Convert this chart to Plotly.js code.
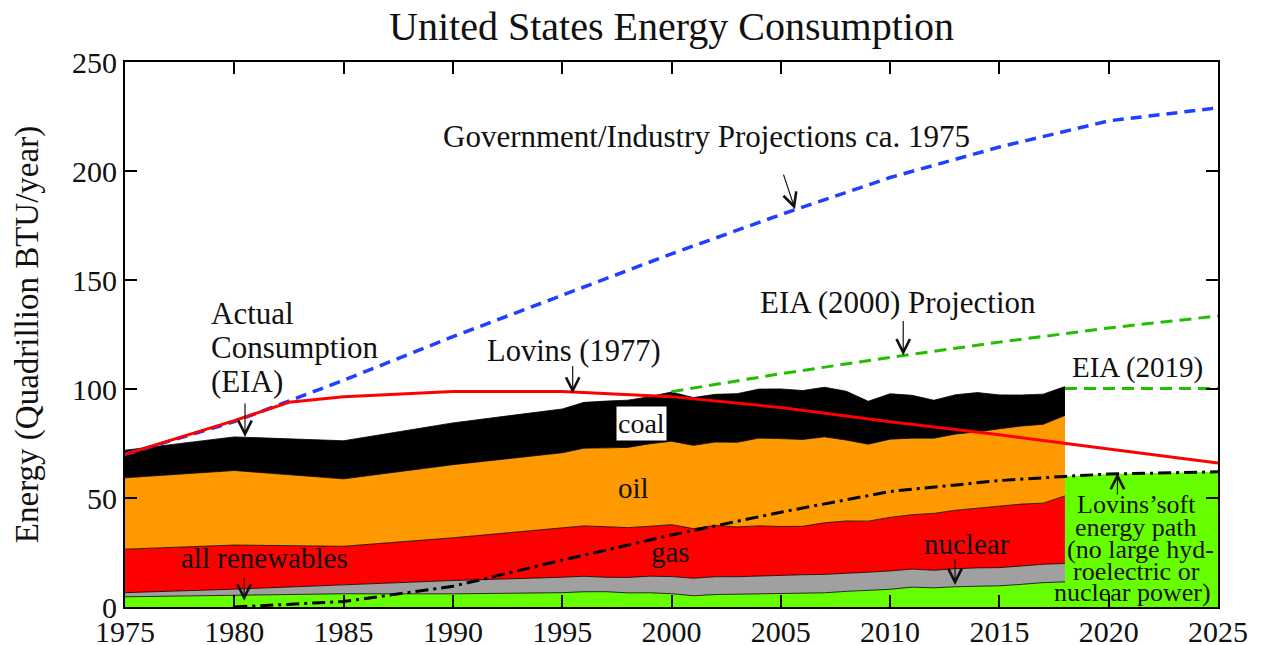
<!DOCTYPE html>
<html>
<head>
<meta charset="utf-8">
<script src="https://cdn.plot.ly/plotly-3.0.1.min.js"></script>
<style>html,body{margin:0;padding:0;background:#fff;}#chart{width:1261px;height:645px;}</style>
</head>
<body>
<div id="chart"></div>
<script>
// ---- Actual consumption by source (quadrillion BTU) ----
const years = [1975,1980,1985,1990,1995,1996,1997,1998,1999,2000,2001,2002,2003,2004,2005,2006,2007,2008,2009,2010,2011,2012,2013,2014,2015,2016,2017,2018];
const renewables = [4.68,5.43,6.08,6.04,6.56,7.01,7.02,6.49,6.52,6.10,5.16,5.73,5.94,6.07,6.22,6.59,6.51,7.19,7.60,8.11,9.12,8.79,9.30,9.60,9.72,10.37,11.18,11.52];
const nuclear = [1.90,2.74,4.08,6.10,7.08,7.09,6.60,7.07,7.61,7.86,8.03,8.15,7.96,8.22,8.16,8.21,8.46,8.43,8.36,8.43,8.27,8.06,8.27,8.34,8.34,8.43,8.42,8.44];
const gas = [19.95,20.24,17.70,19.60,22.67,23.09,23.22,22.83,22.91,23.82,22.77,23.56,22.83,22.91,22.56,22.22,23.66,23.84,23.42,24.57,24.95,26.09,26.81,27.38,28.19,28.40,28.03,31.00];
const oil = [32.73,34.20,30.92,33.55,34.44,35.68,36.16,36.82,37.84,38.26,38.19,38.22,38.81,40.29,40.30,39.83,39.43,37.11,35.31,35.87,35.12,34.52,34.97,35.03,35.50,35.82,36.17,36.92];
const coal = [12.66,15.42,17.48,19.17,20.09,21.00,21.45,21.66,21.62,22.58,21.91,21.90,22.32,22.47,22.80,22.45,22.75,22.39,19.69,20.83,19.66,17.38,18.04,17.99,15.55,14.23,13.84,13.24];

// ---- Projections ----
const govYears = [1975,1980,1985,1990,1995,2000,2005,2010,2015,2020,2025];
const govValues = [70,85,104,124,143,162,180,197,211,223,229];

const lovinsYears = [1975,1980,1982.5,1985,1990,1995,2000,2005,2010,2015,2020,2025];
const lovinsValues = [70,85.5,93.9,96.4,98.8,98.8,96.5,91.5,85,79,72.5,66];

const softYears = [1980,1985,1990,1995,2000,2005,2010,2015,2018,2020,2025];
const softValues = [0,2.5,9.5,21.5,33,43.5,53,58,59.9,61,62];

const eia2000Years = [2000,2005,2010,2015,2020,2025];
const eia2000Values = [98.8,107,114.5,121.5,128,133.5];

const eia2019Years = [2018,2025];
const eia2019Values = [100.2,100.2];

// ---- Axis ticks ----
const xTicks = [1975,1980,1985,1990,1995,2000,2005,2010,2015,2020,2025];
const yTicks = [0,50,100,150,200,250];

const FONT = 'Liberation Serif, Times New Roman, serif';
const stackLine = {color:'#000', width:0.8};

function stackTrace(y, color){
  return {x: years, y: y, type:'scatter', mode:'lines', stackgroup:'energy',
          line: stackLine, fillcolor: color, hoverinfo:'skip'};
}

const softStart = softYears.indexOf(2018);

const traces = [
  stackTrace(renewables, 'rgb(102,255,0)'),
  stackTrace(nuclear, 'rgb(160,160,160)'),
  stackTrace(gas, 'rgb(255,0,0)'),
  stackTrace(oil, 'rgb(255,153,0)'),
  stackTrace(coal, 'rgb(0,0,0)'),
  {x: softYears.slice(softStart), y: softValues.slice(softStart), type:'scatter', mode:'lines',
   fill:'tozeroy', fillcolor:'rgb(102,255,0)', line:{width:0, color:'rgb(102,255,0)'}, hoverinfo:'skip'},
  {x: govYears, y: govValues, type:'scatter', mode:'lines',
   line:{color:'rgb(30,64,255)', width:3.5, dash:'11px,7px'}, hoverinfo:'skip'},
  {x: lovinsYears, y: lovinsValues, type:'scatter', mode:'lines',
   line:{color:'rgb(255,0,0)', width:3}, hoverinfo:'skip'},
  {x: softYears, y: softValues, type:'scatter', mode:'lines',
   line:{color:'#000', width:3, dash:'13px,5px,3px,5px'}, hoverinfo:'skip'},
  {x: eia2000Years, y: eia2000Values, type:'scatter', mode:'lines',
   line:{color:'rgb(34,190,0)', width:3, dash:'12px,7px'}, hoverinfo:'skip'},
  {x: eia2019Years, y: eia2019Values, type:'scatter', mode:'lines',
   line:{color:'rgb(34,190,0)', width:3, dash:'12px,7px'}, hoverinfo:'skip'}
];

function label(text, x, y, size, extra){
  return Object.assign({text:text, x:x, y:y, xref:'x', yref:'y', showarrow:false,
    font:{family:FONT, size:size, color:'#111'}, xanchor:'center', yanchor:'middle', borderpad:0}, extra||{});
}
function arrow(x, y, ax, ay){
  return {text:'', x:x, y:y, xref:'x', yref:'y', showarrow:true, ax:ax, ay:ay,
    arrowhead:5, arrowsize:2.2, arrowwidth:1.2, arrowcolor:'#111', standoff:0, startstandoff:0};
}

const annotations = [
  label('Government/Industry Projections ca. 1975', 2001.6, 215.7, 31),
  arrow(2005.65, 182.5, -12, -36),
  label('Actual', 1978.9, 134.7, 31, {xanchor:'left'}),
  label('Consumption', 1978.9, 119.1, 31, {xanchor:'left'}),
  label('(EIA)', 1978.9, 103.4, 31, {xanchor:'left'}),
  arrow(1980.49, 78.0, 0, -35),
  label('Lovins (1977)', 1995.54, 117.5, 30.5),
  arrow(1995.48, 97.9, 0, -29),
  label('EIA (2000) Projection', 2010.36, 139.7, 31),
  arrow(2010.6, 115.4, 0, -36),
  label('EIA (2019)', 2021.3, 109.9, 29),
  label('coal', 1998.65, 84.3, 28, {bgcolor:'#fff', borderpad:1}),
  label('oil', 1998.26, 54.5, 29),
  label('gas', 1999.97, 25.4, 29),
  label('nuclear', 2013.5, 28.7, 29),
  arrow(2012.97, 10.1, 0, -27),
  label('all renewables', 1981.36, 22.4, 29),
  arrow(1980.45, 2.9, 0, -24),
  label('Lovins\u2019soft', 2021.25, 46.8, 26),
  label('energy path', 2021.25, 36.6, 26),
  label('(no large hyd-', 2021.45, 26.4, 26),
  label('roelectric or', 2021.25, 16.4, 26),
  label('nuclear power)', 2021.1, 6.6, 26),
  arrow(2020.4, 61.5, 0, 23)
];

const axisCommon = {
  ticks:'inside', ticklen:12, tickwidth:2, tickcolor:'#000',
  showline:true, linewidth:2, linecolor:'#000', mirror:'ticks',
  showgrid:false, zeroline:false, fixedrange:true,
  tickfont:{family:FONT, size:30, color:'#111'}
};

const layout = {
  width:1261, height:645,
  margin:{l:125, r:43, t:62, b:38, pad:0},
  paper_bgcolor:'#fff', plot_bgcolor:'#fff',
  font:{family:FONT, color:'#111'},
  showlegend:false,
  title:{text:'United States Energy Consumption', font:{family:FONT, size:40, color:'#111'},
         x:0.5, xref:'paper', xanchor:'center', y:0.96, yref:'container', yanchor:'middle'},
  xaxis:Object.assign({}, axisCommon, {range:[1975,2025], tickvals:xTicks, ticktext:xTicks.map(String), ticklabelstandoff:-3}),
  yaxis:Object.assign({}, axisCommon, {range:[0,250], tickvals:yTicks, ticktext:yTicks.map(String),
         title:{text:'Energy (Quadrillion BTU/year)', font:{family:FONT, size:33, color:'#111'}, standoff:23}}),
  annotations:annotations
};

Plotly.newPlot('chart', traces, layout, {displayModeBar:false, staticPlot:true});
</script>
</body>
</html>
